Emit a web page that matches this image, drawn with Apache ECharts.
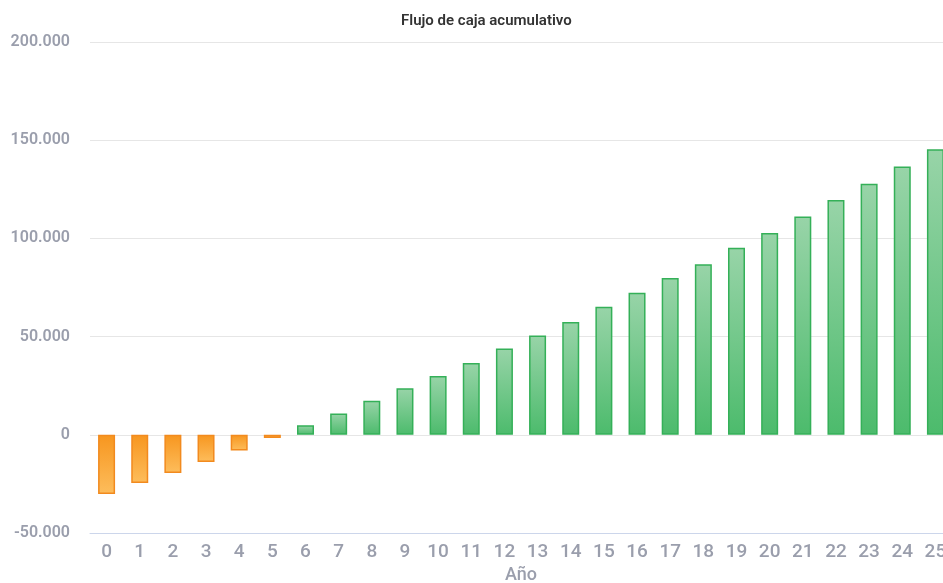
<!DOCTYPE html>
<html>
<head>
<meta charset="utf-8">
<script src="https://cdn.jsdelivr.net/npm/echarts@6/dist/echarts.min.js"></script>
<style>
  html, body { margin: 0; padding: 0; background: #ffffff; }
  #chart { width: 943px; height: 583px; }
</style>
</head>
<body>
<div id="chart"></div>
<script>
// Years of the projection
const years = ['0','1','2','3','4','5','6','7','8','9','10','11','12','13','14','15','16','17','18','19','20','21','22','23','24','25'];
// Cumulative cash flow per year
const cumulativeCashFlow = [
  -30100, -24600, -19400, -13800, -8000, -1600,
  4900, 10900, 17400, 23700, 29900, 36500, 44000, 50500, 57400, 65200,
  72300, 79900, 86900, 95300, 102800, 111100, 119500, 127800, 136600, 145400
];
// Value axis ticks
const yMin = -50000, yMax = 200000, yStep = 50000;

function fmtThousands(v) {
  const s = Math.abs(v).toString().replace(/\B(?=(\d{3})+(?!\d))/g, '.');
  return (v < 0 ? '-' : '') + s;
}

function barStyle(v) {
  if (v < 0) {
    return {
      color: new echarts.graphic.LinearGradient(0, 0, 0, 1, [
        { offset: 0, color: '#f7961f' },
        { offset: 1, color: '#fdbd5c' }
      ]),
      borderColor: '#f28a1e',
      borderWidth: 1.5
    };
  }
  return {
    color: new echarts.graphic.LinearGradient(0, 0, 0, 1, [
      { offset: 0, color: '#98d4a8' },
      { offset: 1, color: '#4cbb6c' }
    ]),
    borderColor: '#34b058',
    borderWidth: 1.5
  };
}

const chart = echarts.init(document.getElementById('chart'), null, { renderer: 'canvas' });
chart.setOption({
  animation: false,
  backgroundColor: '#ffffff',
  title: {
    text: 'Flujo de caja acumulativo',
    left: 396,
    top: 9,
    textStyle: { fontFamily: 'Roboto', fontSize: 15, fontWeight: 600, color: '#333333' }
  },
  grid: {
    left: 90, top: 42, width: 862, height: 491,
    containLabel: false,
    outerBoundsMode: 'none'
  },
  xAxis: {
    type: 'category',
    data: years,
    name: 'Año',
    nameLocation: 'middle',
    nameGap: 28,
    nameTextStyle: { fontFamily: 'Roboto', fontSize: 18, fontWeight: 500, color: '#9a9eac' },
    axisLine: { show: true, onZero: false, lineStyle: { color: '#ccd6eb', width: 1 } },
    axisTick: { show: false },
    axisLabel: { fontFamily: 'Roboto', fontSize: 19, fontWeight: 500, color: '#9a9eac', margin: 10, interval: 0 },
    splitLine: { show: false }
  },
  yAxis: {
    type: 'value',
    min: yMin,
    max: yMax,
    interval: yStep,
    axisLine: { show: false },
    axisTick: { show: false },
    axisLabel: {
      fontFamily: 'Roboto', fontSize: 16, fontWeight: 600, color: '#9a9eac', margin: 20,
      formatter: fmtThousands
    },
    splitLine: { lineStyle: { color: '#e6e6e6', width: 1 } }
  },
  series: [{
    type: 'bar',
    barWidth: 17,
    data: cumulativeCashFlow.map(v => ({ value: v, itemStyle: barStyle(v) }))
  }]
});
</script>
</body>
</html>
